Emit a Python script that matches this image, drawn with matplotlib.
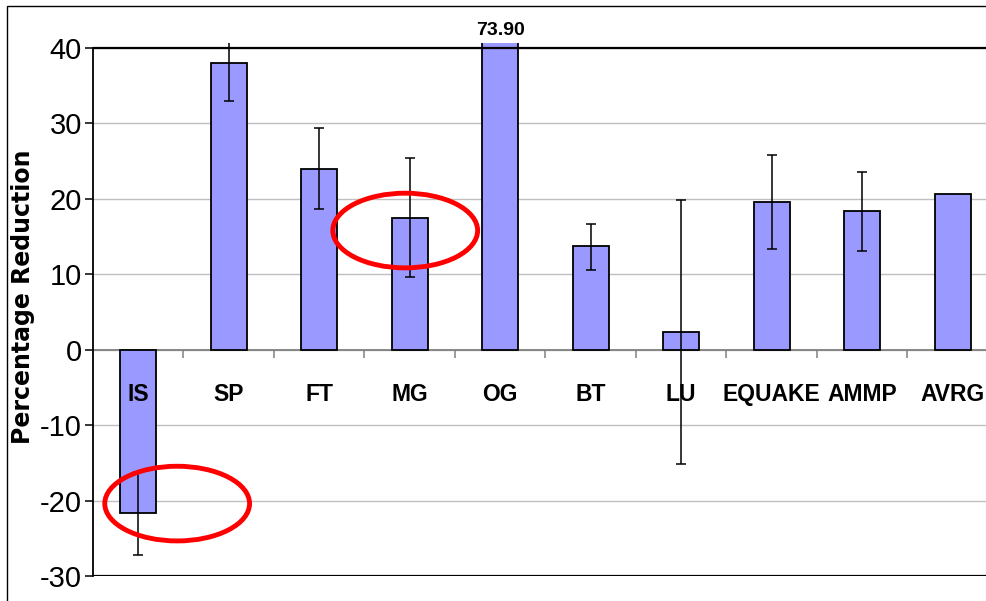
import numpy as np
import matplotlib
matplotlib.use('Agg')
import matplotlib.pyplot as plt
from matplotlib.patches import Ellipse, Rectangle

plt.rcParams['axes.unicode_minus'] = False
narrow = ['Liberation Sans Narrow', 'Arial Narrow', 'Liberation Sans', 'DejaVu Sans']

categories = ['IS', 'SP', 'FT', 'MG', 'OG', 'BT', 'LU', 'EQUAKE', 'AMMP', 'AVRG']
reduction = [-21.6, 38.0, 24.0, 17.5, 73.90, 13.7, 2.4, 19.6, 18.4, 20.7]
err_high = [-16.2, 41.5, 29.4, 25.4, np.nan, 16.7, 19.9, 25.8, 23.6, np.nan]
err_low = [-27.2, 33.0, 18.6, 9.6, np.nan, 10.6, -15.1, 13.4, 13.1, np.nan]

# circled spots (category position, value, width, height)
circles = [(2.95, 15.8, 1.6, 9.9), (0.43, -20.4, 1.6, 9.9)]

ymin, ymax, ytop = -30, 40, 40.7

fig = plt.figure(figsize=(9.87, 6.01), dpi=100)
ax = fig.add_axes([93 / 987, 25 / 601, 905 / 987, (576 - 42.7) / 601])

x = np.arange(len(categories))
vals = np.array(reduction)
hi = np.array(err_high)
lo = np.array(err_low)

ax.bar(x, vals, width=0.4, color='#9999FF', edgecolor='black', linewidth=1.3, zorder=3)
ax.errorbar(x, vals, yerr=[vals - lo, hi - vals], fmt='none', ecolor='black',
            elinewidth=1.1, capsize=3.5, capthick=1.1, zorder=4)

ax.set_xlim(-0.5, len(categories) - 0.5)
ax.set_ylim(ymin, ytop)

# 73.90 label above the clipped bar
og = reduction[4]
ax.annotate(f"{og:.2f}", xy=(4, ytop), xytext=(0, 3), textcoords='offset points',
            ha='center', va='bottom', fontsize=14, fontweight='bold',
            family=narrow, annotation_clip=False)

# grid and frame
ax.set_yticks(range(ymin, ymax + 1, 10))
ax.yaxis.grid(True, color='#C0C0C0', linewidth=1.0, zorder=0)
ax.set_axisbelow(True)
ax.xaxis.set_zorder(5)
ax.axhline(ymax, color='black', linewidth=1.6, zorder=5)
ax.axhline(ymin, color='black', linewidth=1.6, zorder=5)

ax.spines['top'].set_visible(False)
ax.spines['right'].set_visible(False)
ax.spines['left'].set_bounds(ymin, ymax)
ax.spines['left'].set_linewidth(1.3)
ax.spines['bottom'].set_position(('data', 0))
ax.spines['bottom'].set_color('#808080')
ax.spines['bottom'].set_linewidth(1.3)
ax.spines['bottom'].set_zorder(2)

ax.set_xticks(x)
ax.set_xticks(x[:-1] + 0.5, minor=True)
ax.tick_params(axis='x', which='major', length=0, pad=24)
ax.tick_params(axis='x', which='minor', length=6, width=1.1, color='#808080', direction='out')
ax.set_xticklabels(categories, fontsize=16.5, fontweight='bold', family=narrow)

ax.tick_params(axis='y', length=6, width=1.1, pad=2, labelsize=21, labelfontfamily=narrow)

ax.set_ylabel('Percentage Reduction', fontsize=17, fontweight='bold')
ax.yaxis.set_label_coords(-0.064, 0.523)

for cx, cy, w, h in circles:
    ax.add_patch(Ellipse((cx, cy), w, h, fill=False, edgecolor='#FF0000',
                         linewidth=3.5, clip_on=False, zorder=6))

# chart border
fig.patches.append(Rectangle((7.5 / 987, -0.1), 2, 1.1 - 6 / 601, transform=fig.transFigure,
                             fill=False, edgecolor='black', linewidth=1.0))

plt.savefig('out.png', dpi=100)
